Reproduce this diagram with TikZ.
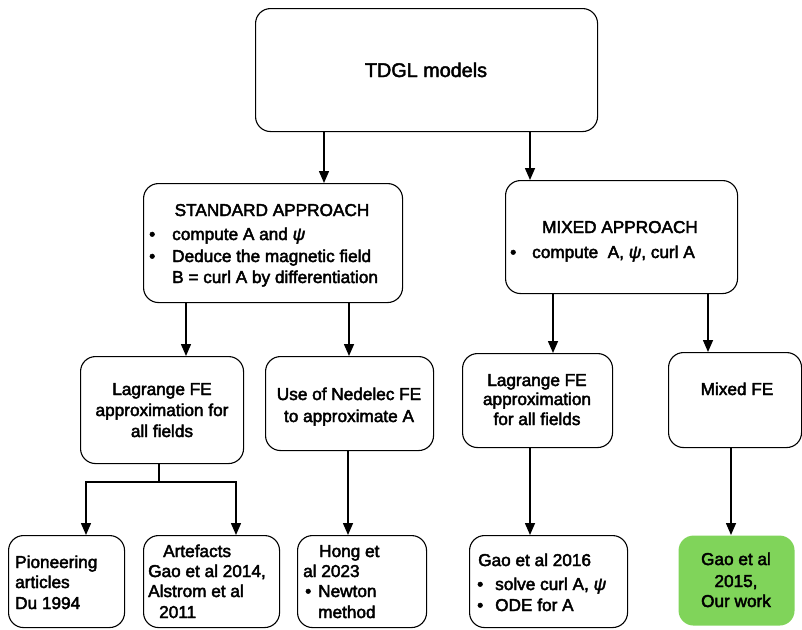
\documentclass[tikz,border=0pt]{standalone}
\usepackage{fontspec}
\setmainfont{Liberation Sans}
\usetikzlibrary{arrows.meta}
\definecolor{greenfill}{RGB}{128,212,90}
\tikzset{
  box/.style={draw, line width=1.1pt, rounded corners=15pt, inner sep=0pt, anchor=north west},
  heavy/.style={execute at begin node={\special{pdf:literal direct q 2 Tr 0.45 w}},
                execute at end node={\special{pdf:literal direct Q}}},
  txt/.style={inner sep=0pt, heavy, font=\fontsize{17.2}{20}\selectfont},
  ttl/.style={inner sep=0pt, heavy, font=\fontsize{19.8}{23}\selectfont},
  arr/.style={line width=1.5pt, -{Triangle[length=12pt,width=10pt]}},
  ln/.style={line width=1.5pt}
}
\newcommand{\bul}{\textbullet}
\begin{document}
\begin{tikzpicture}[x=1pt,y=-1pt]
\useasboundingbox (0,0) rectangle (802,629);
% boxes
\node[box, minimum width=342pt, minimum height=123pt] (tdgl) at (255,8) {};
\node[box, minimum width=259pt, minimum height=119pt] (std) at (143,183) {};
\node[box, minimum width=232pt, minimum height=113pt] (mix) at (505,180) {};
\node[box, minimum width=163pt, minimum height=107pt] (lag1) at (80,356) {};
\node[box, minimum width=168pt, minimum height=94pt] (ned) at (265,356) {};
\node[box, minimum width=150pt, minimum height=94pt] (lag2) at (462,353) {};
\node[box, minimum width=133pt, minimum height=95pt] (mfe) at (668,352) {};
\node[box, minimum width=116pt, minimum height=92pt] (pio) at (8,535) {};
\node[box, minimum width=136pt, minimum height=92pt] (art) at (143,535) {};
\node[box, minimum width=129pt, minimum height=92pt] (hong) at (297,535) {};
\node[box, minimum width=158pt, minimum height=92pt] (gao) at (469,535) {};
\node[box, draw=none, fill=greenfill, minimum width=116pt, minimum height=90pt] (grn) at (678,535) {};
% texts
\node[ttl, anchor=base] (t0) at (426,77) {TDGL models};
\node[txt, anchor=base] (s1) at (272,216) {STANDARD APPROACH};
\node[txt, anchor=base west] (s2b) at (149,240) {\bul};
\node[txt, anchor=base west] (s2) at (172,240) {compute A and \textit{ψ}};
\node[txt, anchor=base west] (s3b) at (149,262) {\bul};
\node[txt, anchor=base west] (s3) at (172,262) {Deduce the magnetic field};
\node[txt, anchor=base west] (s4) at (172,283) {B = curl A by differentiation};
\node[txt, anchor=base] (m1) at (620,233) {MIXED APPROACH};
\node[txt, anchor=base west] (m2b) at (510,258) {\bul};
\node[txt, anchor=base west] (m2) at (532,258) {compute \ A, \textit{ψ}, curl A};
\node[txt, anchor=base] (l1a) at (162,395) {Lagrange FE};
\node[txt, anchor=base] (l1b) at (162,416) {approximation for};
\node[txt, anchor=base] (l1c) at (162,437) {all fields};
\node[txt, anchor=base] (n1) at (349,400) {Use of Nedelec FE};
\node[txt, anchor=base] (n2) at (349,422) {to approximate A};
\node[txt, anchor=base] (l2a) at (537,386) {Lagrange FE};
\node[txt, anchor=base] (l2b) at (537,405) {approximation};
\node[txt, anchor=base] (l2c) at (537,425) {for all fields};
\node[txt, anchor=base] (f1) at (737,395) {Mixed FE};
\node[txt, anchor=base west] (p1) at (15,568) {Pioneering};
\node[txt, anchor=base west] (p2) at (15,588) {articles};
\node[txt, anchor=base west] (p3) at (15,609) {Du 1994};
\node[txt, anchor=base west] (a1) at (163,557) {Artefacts};
\node[txt, anchor=base west] (a2) at (148,577) {Gao et al 2014,};
\node[txt, anchor=base west] (a3) at (148,597) {Alstrom et al};
\node[txt, anchor=base west] (a4) at (159,618) {2011};
\node[txt, anchor=base west] (h1) at (319,557) {Hong et};
\node[txt, anchor=base west] (h2) at (303,577) {al 2023};
\node[txt, anchor=base west] (h3b) at (305,597) {\bul};
\node[txt, anchor=base west] (h3) at (318,597) {Newton};
\node[txt, anchor=base west] (h4) at (318,618) {method};
\node[txt, anchor=base west] (g1) at (478,566) {Gao et al 2016};
\node[txt, anchor=base west] (g2b) at (477,590) {\bul};
\node[txt, anchor=base west] (g2) at (495,590) {solve curl A, \textit{ψ}};
\node[txt, anchor=base west] (g3b) at (477,611) {\bul};
\node[txt, anchor=base west] (g3) at (495,611) {ODE for A};
\node[txt, anchor=base] (r1) at (736,565) {Gao et al};
\node[txt, anchor=base] (r2) at (736,587) {2015,};
\node[txt, anchor=base] (r3) at (736,607) {Our work};
% connectors
\draw[arr] (324,0 |- tdgl.south) -- (324,0 |- std.north);
\draw[arr] (530,0 |- tdgl.south) -- (530,0 |- mix.north);
\draw[arr] (186,0 |- std.south) -- (186,0 |- lag1.north);
\draw[arr] (349,0 |- std.south) -- (349,0 |- ned.north);
\draw[arr] (553,0 |- mix.south) -- (553,0 |- lag2.north);
\draw[arr] (708,0 |- mix.south) -- (708,0 |- mfe.north);
\coordinate (brl) at (86,482);
\coordinate (brr) at (236,482);
\draw[ln] (159,0 |- lag1.south) -- (159,0 |- brl);
\draw[arr] (159,0 |- brl) -- (brl) -- (brl |- pio.north);
\draw[arr] (159,0 |- brr) -- (brr) -- (brr |- art.north);
\draw[arr] (348,0 |- ned.south) -- (348,0 |- hong.north);
\draw[arr] (530,0 |- lag2.south) -- (530,0 |- gao.north);
\draw[arr] (731,0 |- mfe.south) -- (731,0 |- grn.north);
\end{tikzpicture}
\end{document}
